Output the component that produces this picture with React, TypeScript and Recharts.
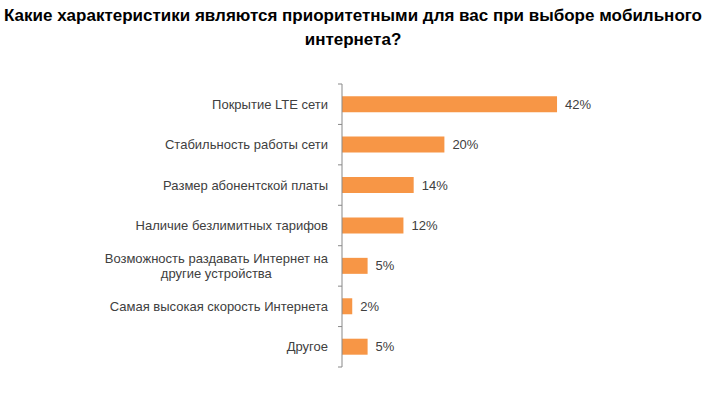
import React from 'react';
import { BarChart, Bar, XAxis, YAxis, LabelList } from 'recharts';

const categories = [
  'Покрытие LTE сети',
  'Стабильность работы сети',
  'Размер абонентской платы',
  'Наличие безлимитных тарифов',
  'Возможность раздавать Интернет на\nдругие устройства',
  'Самая высокая скорость Интернета',
  'Другое',
];
const values = [42, 20, 14, 12, 5, 2, 5];

const FONT = '"Liberation Sans", Arial, sans-serif';
const TEXT_COLOR = '#404040';
const AXIS_COLOR = '#898989';
const TICK_MARGIN = 14;

let ctx: CanvasRenderingContext2D | null = null;
function measure(text: string) {
  if (!ctx) ctx = document.createElement('canvas').getContext('2d');
  if (!ctx) return text.length * 7;
  ctx.font = `13px ${FONT}`;
  return ctx.measureText(text).width;
}

// category label + Excel-style tick marks on the band boundaries
function CategoryTick(props: any) {
  const { x, y, payload, index, visibleTicksCount } = props;
  const lines = String(payload.value).split('\n');
  const axisX = x + TICK_MARGIN;
  const half = payload.offset || 0;
  const marks = [y - half];
  if (index === visibleTicksCount - 1) marks.push(y + half);

  let label;
  if (lines.length === 1) {
    label = (
      <text x={x} y={y} dy="0.35em" textAnchor="end" fill={TEXT_COLOR} fontSize={13} fontFamily={FONT}>
        {lines[0]}
      </text>
    );
  } else {
    const lh = 15;
    const w = Math.max(...lines.map(measure));
    const cx = x - w / 2;
    const y0 = y - ((lines.length - 1) * lh) / 2;
    label = (
      <text textAnchor="middle" fill={TEXT_COLOR} fontSize={13} fontFamily={FONT}>
        {lines.map((l, i) => (
          <tspan key={i} x={cx} y={y0 + i * lh} dy="0.35em">{l}</tspan>
        ))}
      </text>
    );
  }
  return (
    <g>
      {half > 0 && marks.map((my, i) => (
        <line key={i} x1={axisX - 4} x2={axisX} y1={my} y2={my} stroke={AXIS_COLOR} />
      ))}
      {label}
    </g>
  );
}

export default function App() {
  const data = categories.map((name, i) => ({ name, value: values[i] }));

  return (
    <div style={{ position: 'absolute', left: 0, top: 0, width: 706, height: 395, background: '#fff', fontFamily: FONT }}>
      <BarChart
        width={706}
        height={395}
        data={data}
        layout="vertical"
        margin={{ top: 84, right: 108, bottom: 28, left: 0 }}
        barCategoryGap="30%"
      >
        <XAxis type="number" domain={[0, 50]} hide />
        <YAxis
          type="category"
          dataKey="name"
          width={342}
          axisLine={{ stroke: AXIS_COLOR }}
          tickLine={false}
          tickSize={0}
          tickMargin={TICK_MARGIN}
          interval={0}
          tick={<CategoryTick />}
        />
        <Bar dataKey="value" fill="#F79646" isAnimationActive={false}>
          <LabelList
            dataKey="value"
            position="right"
            offset={8}
            formatter={(v: any) => `${v}%`}
            fill={TEXT_COLOR}
            fontSize={13}
            fontFamily={FONT}
          />
        </Bar>
      </BarChart>
      <div
        style={{
          position: 'absolute',
          top: 4,
          left: 0,
          width: 706,
          textAlign: 'center',
          fontWeight: 'bold',
          fontSize: 17,
          lineHeight: '24px',
          color: '#000',
        }}
      >
        Какие характеристики являются приоритетными для вас при выборе мобильного
        <br />
        интернета?
      </div>
    </div>
  );
}
